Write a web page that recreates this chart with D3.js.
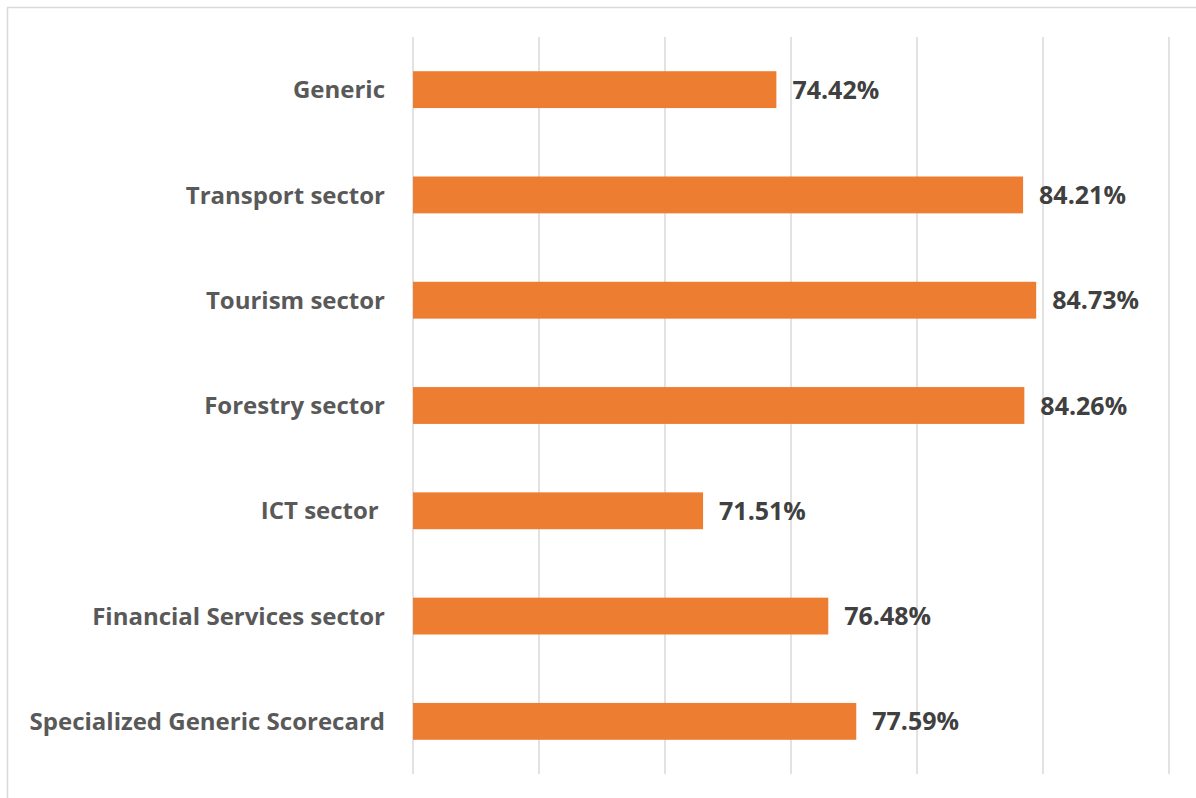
<!DOCTYPE html>
<html><head><meta charset="utf-8">
<script src="https://cdn.jsdelivr.net/npm/d3@7"></script>
<style>html,body{margin:0;padding:0;background:#fff;}svg{display:block;} text{white-space:pre;}</style>
</head><body>
<svg id="chart" width="1196" height="798"></svg>
<script>
const categories = ["Generic","Transport sector","Tourism sector","Forestry sector","ICT sector ","Financial Services sector","Specialized Generic Scorecard"];
const values = [74.42, 84.21, 84.73, 84.26, 71.51, 76.48, 77.59];
const valueLabels = ["74.42%","84.21%","84.73%","84.26%","71.51%","76.48%","77.59%"];
const xTicks = [60, 65, 70, 75, 80, 85, 90];

(function(){
const svg = d3.select("#chart");
const font = "'Open Sans', sans-serif";
svg.append("rect").attr("x",7.5).attr("y",7.5).attr("width",1250).attr("height",900)
  .attr("fill","none").attr("stroke","#d9d9d9").attr("stroke-width",1.5);

const pl = 413, pr = 1169, pt = 37, pb = 774;
const x = d3.scaleLinear().domain([60, 90]).range([pl, pr]);
const y = d3.scaleBand().domain(categories).range([pt, pb]).paddingInner(0.65).paddingOuter(0.325);

svg.append("g").selectAll("line").data(xTicks).join("line")
  .attr("x1", d => x(d)).attr("x2", d => x(d))
  .attr("y1", pt).attr("y2", pb)
  .attr("stroke", "#d9d9d9").attr("stroke-width", 1.5);

svg.append("g").selectAll("rect").data(values).join("rect")
  .attr("x", x(60))
  .attr("y", (d,i) => y(categories[i]))
  .attr("width", d => x(d) - x(60))
  .attr("height", y.bandwidth())
  .attr("fill", "#ed7d31");

svg.append("g").selectAll("text").data(values).join("text")
  .attr("x", d => x(d) + 16)
  .attr("y", (d,i) => y(categories[i]) + y.bandwidth()/2)
  .attr("dy", "0.36em")
  .attr("font-family", font).attr("font-weight", "bold").attr("font-size", 25)
  .attr("fill", "#404040")
  .text((d,i) => valueLabels[i]);

svg.append("g").selectAll("text").data(categories).join("text")
  .attr("x", 385)
  .attr("y", d => y(d) + y.bandwidth()/2)
  .attr("dy", "0.36em")
  .attr("text-anchor", "end")
  .attr("font-family", font).attr("font-weight", "bold").attr("font-size", 24)
  .attr("fill", "#595959")
  .text(d => d);
})();
</script>
</body></html>
